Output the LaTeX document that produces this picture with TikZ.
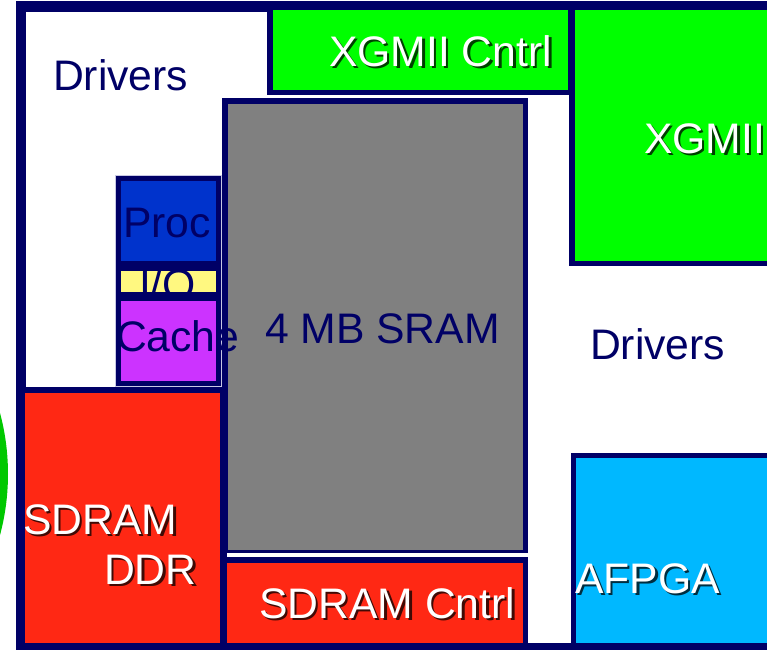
\documentclass[tikz,border=0pt]{standalone}
\usepackage{fontspec}
\setmainfont{Liberation Sans}
\definecolor{navy}{RGB}{0,0,102}
\definecolor{xgreen}{RGB}{0,255,0}
\definecolor{sramgray}{RGB}{128,128,128}
\definecolor{ddrred}{RGB}{255,40,20}
\definecolor{procblue}{RGB}{0,51,204}
\definecolor{ioyellow}{RGB}{255,248,128}
\definecolor{cachepurple}{RGB}{204,51,255}
\definecolor{afpgablue}{RGB}{0,184,255}
\definecolor{ringgreen}{RGB}{0,200,0}
\definecolor{edgelight}{RGB}{200,200,228}
\tikzset{
  lbl/.style={anchor=base west, inner sep=0pt, outer sep=0pt,
    font=\fontsize{42.7}{50}\selectfont},
  navylbl/.style={lbl, text=navy},
  whitelbl/.style={lbl, text=white},
  shadelbl/.style={lbl, text=black, text opacity=0.75, xshift=2.5pt, yshift=-2.5pt},
}
% white label with a dark drop shadow
\newcommand\shadowlabel[3]{%
  \node[shadelbl] (#1s) at (#2) {#3};
  \node[whitelbl] (#1) at (#2) {#3};}
\begin{document}
\begin{tikzpicture}[x=1pt, y=-1pt]
\useasboundingbox (0,0) rectangle (767,649);
\clip (0,0) rectangle (767,649);
\fill[white] (0,0) rectangle (767,649);

% highlight ring at the left edge
\draw[ringgreen, line width=8] (-228,474) circle (232);

% chip outline
\fill[navy] (16,1) rectangle (800,660);
\fill[white] (26,12) rectangle (790,643);

% XGMII controller
\fill[navy] (267,1) rectangle (575,95);
\fill[xgreen] (273,10) rectangle (568,90);

% XGMII
\fill[navy] (569,1) rectangle (800,266);
\fill[xgreen] (575,10) rectangle (800,261);

% SRAM
\fill[navy] (222,98) rectangle (528,553);
\fill[sramgray] (228,104) rectangle (523,550);

% SDRAM controller
\fill[navy] (220,557) rectangle (528,660);
\fill[ddrred] (227,563) rectangle (523,643);

% SDRAM DDR
\fill[navy] (16,387) rectangle (227,660);
\fill[ddrred] (25,393) rectangle (220,643);

% AFPGA
\fill[navy] (571,453) rectangle (800,660);
\fill[afpgablue] (576,458) rectangle (800,643);

% processor / IO / cache stack
\fill[navy] (116,176) rectangle (221,386);
\draw[edgelight, line width=1] (115.5,175.5) rectangle (221.5,386.5);
\fill[procblue] (121,181) rectangle (216,261);
\fill[cachepurple] (121,301) rectangle (216,381);
\begin{scope}
  \clip (121,271) rectangle (216,292);
  \fill[ioyellow] (121,271) rectangle (216,292);
  \node[navylbl] (io) at (139,299) {I/O};
\end{scope}

% labels
\node[navylbl] (drvA) at (53,90) {Drivers};
\node[navylbl] (drvB) at (590,359) {Drivers};
\node[navylbl] (proc) at (123,237) {Proc};
\node[navylbl] (sram) at (265,343) {4 MB SRAM};
\node[navylbl] (cache) at (116,351) {Cache};
\shadowlabel{xcntrl}{329,66}{XGMII Cntrl}
\shadowlabel{xgmii}{644,153}{XGMII}
\shadowlabel{sdram}{23,534}{SDRAM}
\shadowlabel{ddr}{104,584}{DDR}
\shadowlabel{scntrl}{259,618}{SDRAM Cntrl}
\shadowlabel{afpga}{575,593}{AFPGA}
\end{tikzpicture}
\end{document}
